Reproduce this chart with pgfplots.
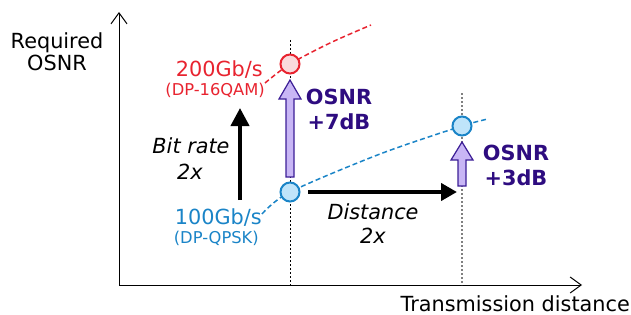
\documentclass[border=0pt]{standalone}
\usepackage{pgfplots}
\pgfplotsset{compat=1.18}
\usepackage{fontspec}
\setmainfont{DejaVu Sans}
\usetikzlibrary{arrows.meta}
\definecolor{rline}{HTML}{E8232F}
\definecolor{rfill}{HTML}{FADADC}
\definecolor{bline}{HTML}{1A84C7}
\definecolor{bfill}{HTML}{BFE4FA}
\definecolor{pfill}{HTML}{C8B6F5}
\definecolor{pedge}{HTML}{3C1E96}
\definecolor{ptext}{HTML}{2E0C80}
\definecolor{gdot}{HTML}{808080}
\tikzset{
  bigtxt/.style={font=\fontsize{20.8bp}{24bp}\selectfont, inner sep=0},
  bigit/.style={font=\fontsize{20.8bp}{24bp}\selectfont\itshape, inner sep=0},
  bigbf/.style={font=\fontsize{20.8bp}{24bp}\selectfont\bfseries, inner sep=0},
  smalltxt/.style={font=\fontsize{16.3bp}{19bp}\selectfont, inner sep=0},
}
\begin{document}
\begin{tikzpicture}
\begin{axis}[
  scale only axis, width=631bp, height=315bp,
  xmin=0, xmax=631, ymin=0, ymax=315, y dir=reverse,
  hide axis, clip=false,
]
\path (axis cs:0,0) (axis cs:631,315);
% axes
\addplot[black, line width=1bp, -{Straight Barb[length=11bp,width=16bp]}] coordinates {(119,285) (119,12)};
\addplot[black, line width=1bp, -{Straight Barb[length=11bp,width=16bp]}] coordinates {(119,285) (582,285)};
% dotted verticals
\addplot[black, line width=0.9bp, dash pattern=on 2bp off 2bp] coordinates {(290,40) (290,285)};
\addplot[gdot, line width=1.2bp, dash pattern=on 2bp off 2bp] coordinates {(462,93) (462,285)};
% dashed curves
\addplot[rline, line width=1.5bp, dash pattern=on 5bp off 3bp, smooth] coordinates {(265,83) (290,64) (330,43) (371,25)};
\addplot[bline, line width=1.5bp, dash pattern=on 5bp off 3bp, smooth] coordinates {(262,214) (290,192) (380,154) (462,126) (488,119)};
% purple arrows
\addplot[fill=pfill, draw=pedge, line width=1.2bp] coordinates {(286,177) (286,99) (279,99) (290,80) (301,99) (294,99) (294,177)} -- cycle;
\addplot[fill=pfill, draw=pedge, line width=1.2bp] coordinates {(458,186) (458,160) (451,160) (462,142) (473,160) (466,160) (466,186)} -- cycle;
% black arrows
\addplot[black, line width=4bp, -{Triangle[length=18bp,width=18bp]}] coordinates {(240,200) (240,108)};
\addplot[black, line width=4bp, -{Triangle[length=16bp,width=17bp]}] coordinates {(308,192) (457,192)};
% circles
\addplot[only marks, mark=*, mark size=9.5bp, mark options={fill=rfill, draw=rline, line width=2bp}] coordinates {(290,64)};
\addplot[only marks, mark=*, mark size=9.5bp, mark options={fill=bfill, draw=bline, line width=2bp}] coordinates {(290,192) (462,126)};
% texts
\node[bigtxt, anchor=base] at (axis cs:57,48) {Required};
\node[bigtxt, anchor=base] at (axis cs:57,70) {OSNR};
\node[bigtxt, text=rline, anchor=base east] at (axis cs:263,76) {200Gb/s};
\node[smalltxt, text=rline, anchor=base east] at (axis cs:265,95) {(DP-16QAM)};
\node[bigtxt, text=bline, anchor=base east] at (axis cs:262,224) {100Gb/s};
\node[smalltxt, text=bline, anchor=base east] at (axis cs:259,243) {(DP-QPSK)};
\node[bigit, anchor=base] at (axis cs:191,153) {Bit rate};
\node[bigit, anchor=base] at (axis cs:190,179) {2x};
\node[bigit, anchor=base] at (axis cs:373,219) {Distance};
\node[bigit, anchor=base] at (axis cs:373,243) {2x};
\node[bigbf, text=ptext, anchor=base] at (axis cs:339,104) {OSNR};
\node[bigbf, text=ptext, anchor=base] at (axis cs:339,129) {+7dB};
\node[bigbf, text=ptext, anchor=base] at (axis cs:516,160) {OSNR};
\node[bigbf, text=ptext, anchor=base] at (axis cs:516,185) {+3dB};
\node[bigtxt, anchor=base east] at (axis cs:630,311) {Transmission distance};
\end{axis}
\end{tikzpicture}
\end{document}
